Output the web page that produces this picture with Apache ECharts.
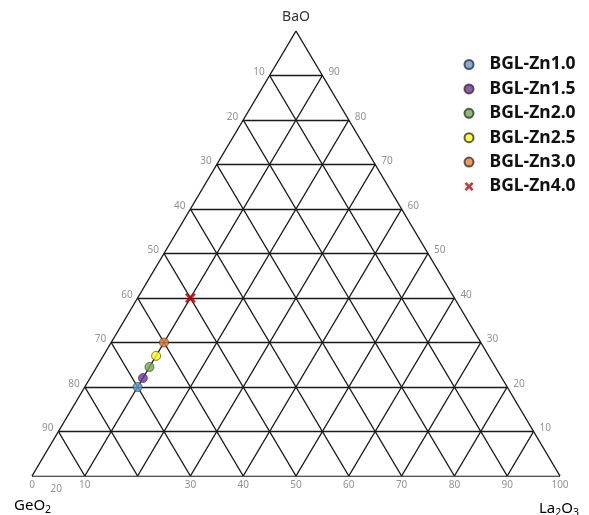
<!DOCTYPE html>
<html>
<head>
<meta charset="utf-8">
<script src="https://cdn.jsdelivr.net/npm/echarts@6/dist/echarts.min.js"></script>
<style>
html,body{margin:0;padding:0;background:#fff;}
#chart{width:589px;height:515px;}
</style>
</head>
<body>
<div id="chart"></div>
<script>
// ---- data ----
const categories = ['BGL-Zn1.0','BGL-Zn1.5','BGL-Zn2.0','BGL-Zn2.5','BGL-Zn3.0','BGL-Zn4.0'];
const baoValues   = [20, 22, 24.5, 27, 30, 40];   // BaO %
const la2o3Values = [10, 10, 10, 10, 10, 10];     // La2O3 %
const colors = ['#5b9bd5','#7030a0','#70ad47','#ffff00','#ed7d31','#c00000'];
const gridSteps = [10,20,30,40,50,60,70,80,90];
const leftTicks  = [10,20,30,40,50,60,70,80,90];   // GeO2 along left edge
const rightTicks = [90,80,70,60,50,40,30,20,10];   // BaO along right edge
const bottomTicks = ['0','10','20','30','40','50','60','70','80','90','100'];
const bottomTickPos = [0,10,4.6,30,40,50,60,70,80,90,100]; // La2O3 positions (the "20" sits misplaced as in the source)

// ternary -> cartesian (x: La2O3 + BaO/2, y: BaO)
function tern(la, ba){ return [la + ba/2, ba]; }

const gridLines = [];
gridLines.push({coords:[tern(0,0), tern(100,0)]});
gridLines.push({coords:[tern(0,0), tern(0,100)]});
gridLines.push({coords:[tern(100,0), tern(0,100)]});
gridSteps.forEach(k=>{
  gridLines.push({coords:[tern(0,k), tern(100-k,k)]});      // BaO const
  gridLines.push({coords:[tern(k,0), tern(k,100-k)]});      // La2O3 const
  gridLines.push({coords:[tern(100-k,0), tern(0,100-k)]});  // GeO2 const
});

const tickFont = {fontFamily:'Noto Sans', fontSize:10, color:'#777'};

const leftLabelData = leftTicks.map(g => ({value: tern(0, 100-g), name: String(g)}));
const rightLabelData = rightTicks.map(b => ({value: tern(100-b, b), name: String(b)}));
const bottomLabelData = bottomTicks.map((t,i) => ({value: tern(bottomTickPos[i], 0), name: t,
  label: t === '20' ? {offset:[0,4]} : undefined}));

const series = [{
  type:'lines', coordinateSystem:'cartesian2d', silent:true, z:1,
  lineStyle:{color:'#1a1a1a', width:1.4, opacity:1},
  data: gridLines
},{
  type:'scatter', symbolSize:0, silent:true,
  data:leftLabelData,
  label:{show:true, position:'left', distance:5, offset:[0,-3], formatter:p=>p.name, ...tickFont}
},{
  type:'scatter', symbolSize:0, silent:true,
  data:rightLabelData,
  label:{show:true, position:'right', distance:6, offset:[0,-3], formatter:p=>p.name, ...tickFont}
},{
  type:'scatter', symbolSize:0, silent:true,
  data:bottomLabelData,
  label:{show:true, position:'bottom', distance:4, formatter:p=>p.name, ...tickFont}
}];

const crossPath = 'path://M2,0 L5,3 L8,0 L10,2 L7,5 L10,8 L8,10 L5,7 L2,10 L0,8 L3,5 L0,2 Z';
categories.forEach((c,i)=>{
  const isCross = c === 'BGL-Zn4.0';
  series.push({
    type:'scatter', name:c, z:5,
    symbol: isCross ? crossPath : 'circle',
    symbolSize: isCross ? 11 : 9,
    itemStyle: isCross ? {color:colors[i]} : {color:colors[i], borderColor:'#333', borderWidth:0.8},
    data:[tern(la2o3Values[i], baoValues[i])]
  });
});

const chart = echarts.init(document.getElementById('chart'), null, {renderer:'canvas'});
chart.setOption({
  animation:false,
  backgroundColor:'#fff',
  grid:{left:32, top:31, width:528, height:445},
  xAxis:{type:'value', min:0, max:100, show:false},
  yAxis:{type:'value', min:0, max:100, show:false},
  legend:{
    data:categories, orient:'vertical', left:463.5, top:55.5, itemGap:6.4, padding:0,
    itemWidth:9, itemHeight:9,
    textStyle:{fontFamily:'Noto Sans', fontSize:17.5, fontWeight:'bold', color:'#111', padding:[0,0,0,11]}
  },
  graphic:[
    {type:'text', style:{text:'BaO', x:296, y:17, align:'center', verticalAlign:'middle', fontFamily:'Noto Sans', fontSize:14, fill:'#333'}},
    {type:'text', style:{text:'{a|GeO}{s|2}', x:14, y:506, verticalAlign:'middle', rich:{a:{fontFamily:'Noto Sans', fontSize:15, color:'#333'}, s:{fontFamily:'Noto Sans', fontSize:10.5, color:'#333', padding:[8,0,0,0]}}}},
    {type:'text', style:{text:'{a|La}{s|2}{a|O}{s|3}', x:539, y:509, verticalAlign:'middle', rich:{a:{fontFamily:'Noto Sans', fontSize:15, color:'#333'}, s:{fontFamily:'Noto Sans', fontSize:10.5, color:'#333', padding:[8,0,0,0]}}}}
  ],
  series:series
});
</script>
</body>
</html>
